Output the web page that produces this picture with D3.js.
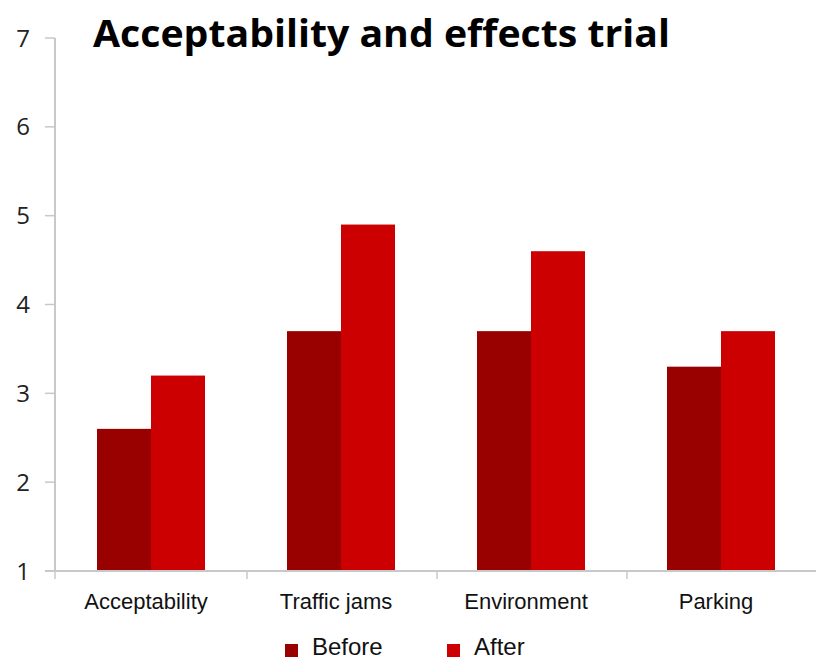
<!DOCTYPE html>
<html>
<head>
<meta charset="utf-8">
<script src="https://cdn.jsdelivr.net/npm/d3@7"></script>
<style>
  body { margin: 0; background: #fff; }
</style>
</head>
<body>
<script>
// chart data
var categories = ["Acceptability", "Traffic jams", "Environment", "Parking"];
var seriesNames = ["Before", "After"];
var beforeValues = [2.6, 3.7, 3.7, 3.3];
var afterValues = [3.2, 4.9, 4.6, 3.7];
var yTicks = [1, 2, 3, 4, 5, 6, 7];
var colors = ["#990000", "#cc0000"];

var width = 816, height = 660;

var svg = d3.select("body").append("svg")
            .attr("width", width)
            .attr("height", height);

var x = d3.scaleBand().domain(categories).range([57, 817]);
var y = d3.scaleLinear().domain([1, 7]).range([571, 38]);
var barW = 54;

// y axis
svg.append("line").attr("x1", 55).attr("x2", 55).attr("y1", y(7)).attr("y2", y(1))
   .attr("stroke", "#c8c8c8").attr("stroke-width", 2);
yTicks.forEach(function(t){
   svg.append("line").attr("x1", 45).attr("x2", 55).attr("y1", y(t)).attr("y2", y(t))
      .attr("stroke", "#c8c8c8").attr("stroke-width", 1.5);
   svg.append("text").attr("x", 23).attr("y", y(t)).attr("dy", "0.36em")
      .attr("text-anchor", "middle")
      .style("font-family", "'Open Sans'").style("font-size", "24px").style("fill", "#222")
      .text(t);
});

// bars
categories.forEach(function(c, i){
   var cx = x(c) + x.bandwidth()/2 - 1;
   [beforeValues[i], afterValues[i]].forEach(function(v, j){
      svg.append("rect")
         .attr("x", cx - barW + j*barW).attr("y", y(v))
         .attr("width", barW).attr("height", y(1) - y(v))
         .attr("fill", colors[j]);
   });
});

// x axis
svg.append("line").attr("x1", 45).attr("x2", 816).attr("y1", y(1)).attr("y2", y(1))
   .attr("stroke", "#c8c8c8").attr("stroke-width", 2);
categories.slice(1).forEach(function(c){
   var xt = x(c);
   svg.append("line").attr("x1", xt).attr("x2", xt).attr("y1", y(1)).attr("y2", y(1)+8)
      .attr("stroke", "#c8c8c8").attr("stroke-width", 1.5);
});
svg.append("line").attr("x1", 55).attr("x2", 55).attr("y1", y(1)).attr("y2", y(1)+8)
   .attr("stroke", "#c8c8c8").attr("stroke-width", 1.5);

categories.forEach(function(c){
   svg.append("text").attr("x", x(c) + x.bandwidth()/2 - 6).attr("y", 609)
      .attr("text-anchor", "middle")
      .style("font-family", "'Liberation Sans', Arial").style("font-size", "22px").style("fill", "#111")
      .text(c);
});

// title
svg.append("text").attr("x", 93).attr("y", 47)
   .attr("textLength", 577).attr("lengthAdjust", "spacingAndGlyphs")
   .style("font-family", "'Open Sans'").style("font-weight", "bold")
   .style("font-size", "37px").style("fill", "#000")
   .text("Acceptability and effects trial");

// legend
var legX = [285, 447];
seriesNames.forEach(function(s, j){
   svg.append("rect").attr("x", legX[j]).attr("y", 644).attr("width", 13).attr("height", 13)
      .attr("fill", colors[j]);
   svg.append("text").attr("x", legX[j] + 27).attr("y", 655)
      .style("font-family", "'Liberation Sans', Arial").style("font-size", "24px").style("fill", "#111")
      .text(s);
});
</script>
</body>
</html>
